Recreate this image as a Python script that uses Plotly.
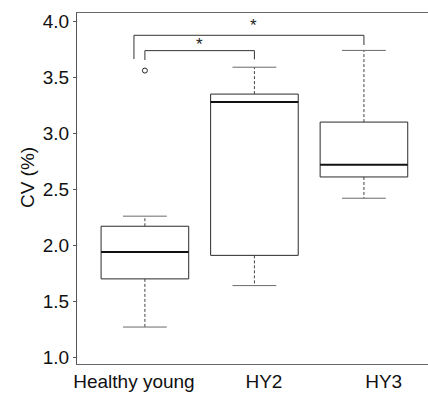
import plotly.graph_objects as go

# ---- data ----
categories = ["Healthy young", "HY2", "HY3"]
q1 = [1.70, 1.91, 2.61]
median = [1.94, 3.28, 2.72]
q3 = [2.17, 3.35, 3.10]
lower_whisker = [1.27, 1.64, 2.42]
upper_whisker = [2.26, 3.59, 3.74]
outlier_group = [0]
outlier_value = [3.56]
y_ticks = [1.0, 1.5, 2.0, 2.5, 3.0, 3.5, 4.0]

# ---- style / layout params ----
pos = list(range(len(categories)))
half_box = 0.4
half_cap = 0.2
label_pos = [-0.1, 1.087, 2.18]
FONT = "Liberation Sans, Arial, sans-serif"
BOX_COL = "#2a2a2a"
CAP_COL = "#6a6a6a"

box_x, box_y, med_x, med_y = [], [], [], []
wh_x, wh_y, cap_x, cap_y = [], [], [], []
for i, p in enumerate(pos):
    l, r = p - half_box, p + half_box
    box_x += [l, r, r, l, l, None]
    box_y += [q1[i], q1[i], q3[i], q3[i], q1[i], None]
    med_x += [l, r, None]
    med_y += [median[i], median[i], None]
    wh_x += [p, p, None, p, p, None]
    wh_y += [q3[i], upper_whisker[i], None, q1[i], lower_whisker[i], None]
    cap_x += [p - half_cap, p + half_cap, None, p - half_cap, p + half_cap, None]
    cap_y += [upper_whisker[i], upper_whisker[i], None, lower_whisker[i], lower_whisker[i], None]

fig = go.Figure()
fig.add_trace(go.Scatter(x=wh_x, y=wh_y, mode="lines",
                         line=dict(color="#444", width=1, dash="3px,2px"), hoverinfo="skip"))
fig.add_trace(go.Scatter(x=cap_x, y=cap_y, mode="lines",
                         line=dict(color=CAP_COL, width=1), hoverinfo="skip"))
fig.add_trace(go.Scatter(x=box_x, y=box_y, mode="lines", fill="toself", fillcolor="white",
                         line=dict(color=BOX_COL, width=1), hoverinfo="skip"))
fig.add_trace(go.Scatter(x=med_x, y=med_y, mode="lines",
                         line=dict(color="#111", width=2), hoverinfo="skip"))
fig.add_trace(go.Scatter(x=[pos[g] for g in outlier_group], y=outlier_value, mode="markers",
                         marker=dict(symbol="circle-open", size=5, color="#222",
                                     line=dict(width=1, color="#222")), hoverinfo="skip"))

# significance brackets
br_col = "#333"
brackets = [
    # x-left, x-right, top, left-bottom, right-bottom
    (-0.1, 2.0, 3.875, 3.663, 3.788),
    (0.0, 1.0, 3.738, 3.654, 3.66),
]
bx, by = [], []
for xl, xr, top, lb, rb in brackets:
    bx += [xl, xl, xr, xr, None]
    by += [lb, top, top, rb, None]
fig.add_trace(go.Scatter(x=bx, y=by, mode="lines", line=dict(color=br_col, width=1),
                         hoverinfo="skip"))
for sx, sy in [(0.995, 3.958), (0.502, 3.797)]:
    fig.add_annotation(x=sx, y=sy, text="*", showarrow=False,
                       font=dict(family=FONT, size=17, color="#222"),
                       xanchor="center", yanchor="middle")

# y title
fig.add_annotation(xref="paper", yref="y", x=(27 - 77) / 351, y=2.60, text="CV (%)",
                   textangle=-90, showarrow=False, xanchor="center", yanchor="middle",
                   font=dict(family=FONT, size=19, color="#111"))

fig.update_layout(
    width=428, height=394,
    margin=dict(l=77, r=0, t=13, b=30, autoexpand=False),
    paper_bgcolor="white", plot_bgcolor="white",
    showlegend=False, hovermode=False,
    font=dict(family=FONT, size=19, color="#111"),
    xaxis=dict(range=[-0.62, 2.585], tickvals=label_pos, ticktext=categories,
               showline=True, linecolor="#666", linewidth=1, mirror=True,
               showgrid=False, zeroline=False, ticks="", ticklen=0, automargin=False,
               showspikes=False,
               tickfont=dict(family=FONT, size=19, color="#111")),
    yaxis=dict(range=[0.94, 4.074], tickvals=y_ticks, tickformat=".1f",
               showline=True, linecolor="#555", linewidth=1, mirror=False,
               showgrid=False, zeroline=False, ticks="outside", ticklen=3,
               tickcolor="#555", automargin=False, showspikes=False,
               tickfont=dict(family=FONT, size=19, color="#111")),
)

fig.write_html(
    "out.html",
    config={"displayModeBar": False},
    post_script="document.body.style.margin='0';document.body.style.overflow='hidden';",
)
